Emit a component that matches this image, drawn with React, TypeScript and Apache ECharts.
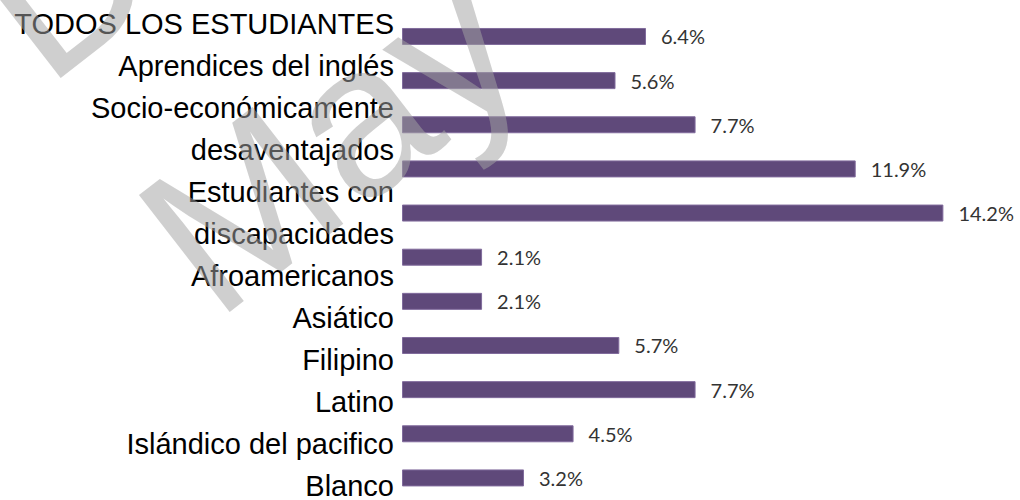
import React, { useEffect, useRef } from "react";
import * as echarts from "echarts";

const categories = [
  "TODOS LOS ESTUDIANTES",
  "Aprendices del inglés",
  "Socio-económicamente desaventajados",
  "Estudiantes con discapacidades",
  "Afroamericanos",
  "Asiático",
  "Filipino",
  "Latino",
  "Islándico del pacifico",
  "Blanco",
  "Otro",
];
const values = [6.4, 5.6, 7.7, 11.9, 14.2, 2.1, 2.1, 5.7, 7.7, 4.5, 3.2];
const labelLines = [
  "TODOS LOS ESTUDIANTES",
  "Aprendices del inglés",
  "Socio-económicamente",
  "desaventajados",
  "Estudiantes con",
  "discapacidades",
  "Afroamericanos",
  "Asiático",
  "Filipino",
  "Latino",
  "Islándico del pacifico",
  "Blanco",
];

export default function App() {
  const ref = useRef<HTMLDivElement>(null);
  useEffect(() => {
    document.body.style.margin = "0";
    const chart = echarts.init(ref.current!, null, { renderer: "svg" });
    const wm = "rgba(163,163,163,0.52)";
    chart.setOption({
      animation: false,
      backgroundColor: "#ffffff",
      grid: [
        { left: 402, top: 14.4, height: 486.2, width: 610 },
        { left: 394, top: 23.5, height: 467, width: 10 },
      ],
      xAxis: [
        { type: "value", gridIndex: 0, min: 0, max: 16, show: false },
        { type: "value", gridIndex: 1, min: 0, max: 1, show: false },
      ],
      yAxis: [
        {
          type: "category",
          gridIndex: 0,
          data: categories,
          inverse: true,
          axisLine: { show: false },
          axisTick: { show: false },
          axisLabel: { show: false },
          splitLine: { show: false },
        },
        {
          type: "category",
          gridIndex: 1,
          data: labelLines,
          inverse: true,
          boundaryGap: false,
          axisLine: { show: false },
          axisTick: { show: false },
          splitLine: { show: false },
          axisLabel: {
            show: true,
            interval: 0,
            margin: 0,
            fontSize: 29,
            fontFamily: "Liberation Sans, Arial, sans-serif",
            color: "#000000",
          },
        },
      ],
      series: [
        {
          type: "bar",
          xAxisIndex: 0,
          yAxisIndex: 0,
          data: values,
          barWidth: 17,
          itemStyle: { color: "#5f497a", borderColor: "#806b9c", borderWidth: 1 },
          label: {
            show: true,
            position: "right",
            distance: 15,
            formatter: (p: any) => p.value.toFixed(1) + "%",
            fontSize: 20,
            fontFamily: "Lato, sans-serif",
            color: "#333333",
          },
        },
      ],
      graphic: [
        {
          type: "text",
          x: 170,
          y: 264,
          rotation: 0.66,
          z: 100,
          silent: true,
          style: {
            text: "May",
            fontSize: 215,
            fontFamily: "Liberation Sans, Arial, sans-serif",
            fill: wm,
            textAlign: "left",
            textVerticalAlign: "middle",
          },
        },
        {
          type: "text",
          x: 1,
          y: 30,
          rotation: 0.66,
          z: 100,
          silent: true,
          style: {
            text: "Draft",
            fontSize: 215,
            fontFamily: "Liberation Sans, Arial, sans-serif",
            fill: wm,
            textAlign: "left",
            textVerticalAlign: "middle",
          },
        },
      ],
    });
    return () => chart.dispose();
  }, []);
  return <div ref={ref} style={{ width: 1020, height: 500 }} />;
}
